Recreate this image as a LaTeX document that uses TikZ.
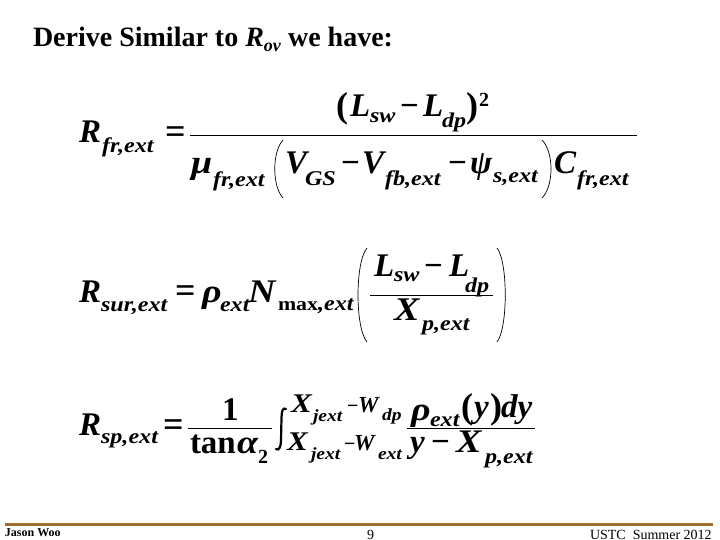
\documentclass[tikz,border=0pt]{standalone}
\usepackage{fontspec}
\setmainfont{Liberation Serif}
\newfontfamily\widefam[FakeStretch=1.15]{Liberation Serif}
\usepackage{xcolor}
\definecolor{barbrown}{HTML}{9C7028}
\tikzset{
  txt/.style={anchor=base west,inner sep=0pt,outer sep=0pt},
  sym/.style={txt,font=\fontsize{33}{33}\selectfont\bfseries\itshape},
  wsym/.style={txt,font=\widefam\fontsize{33}{33}\selectfont\bfseries\itshape},
  rom/.style={txt,font=\fontsize{33}{33}\selectfont\bfseries},
  eqs/.style={txt,font=\fontsize{36}{36}\selectfont\bfseries},
  par/.style={txt,font=\fontsize{36}{36}\selectfont\bfseries},
  subs/.style={txt,font=\widefam\fontsize{21}{21}\selectfont\bfseries\itshape},
  subr/.style={txt,font=\fontsize{20}{20}\selectfont\bfseries},
  limx/.style={txt,font=\widefam\fontsize{27}{27}\selectfont\bfseries\itshape},
  lims/.style={txt,font=\fontsize{23}{23}\selectfont\bfseries\itshape},
  limr/.style={txt,font=\widefam\fontsize{17}{17}\selectfont\bfseries\itshape},
  foot/.style={txt,font=\fontsize{14}{14}\selectfont},
  delim/.style={line width=0.7pt},
  fracline/.style={line width=1pt}
}
\begin{document}
\begin{tikzpicture}[x=1pt,y=-1pt]
\useasboundingbox (0,0) rectangle (720,540);
\fill[white] (0,0) rectangle (720,540);
\node[txt,font=\fontsize{28}{28}\selectfont\bfseries] (Title) at (33,47) {Derive Similar to \textit{R}\raisebox{-5pt}{\fontsize{18}{18}\selectfont\textit{ov}} we have:};
% first equation
\node[sym] (Rfr) at (79,143) {R};
\node[subs] (Rfrs) at (102,153) {fr,ext};
\node[eqs] (EqA) at (165,144) {=};
\coordinate (LineAa) at (190,136);
\coordinate (LineAb) at (637,136);
\draw[fracline] (LineAa) -- (LineAb);
\node[par] (ParA) at (336,118) {(};
\node[sym] (LswA) at (350,117) {L};
\node[subs] (LswAs) at (370,123) {sw};
\node[rom] (MinA) at (400,117) {−};
\node[sym] (LdpA) at (423,117) {L};
\node[subs] (LdpAs) at (442,128) {dp};
\node[par] (ParB) at (466,118) {)};
\node[subr] (SqA) at (479,107) {2};
\node[wsym] (Mu) at (191,174) {μ};
\node[subs] (Mus) at (213,187) {fr,ext};
\node[sym] (Vgs) at (285,174) {V};
\node[subs] (Vgss) at (305,186) {GS};
\node[rom] (MinB) at (341,174) {−};
\node[sym] (Vfb) at (362,174) {V};
\node[subs] (Vfbs) at (385,186) {fb,ext};
\node[rom] (MinC) at (448,174) {−};
\node[sym] (Psi) at (470,174) {ψ};
\node[subs] (Psis) at (493,183) {s,ext};
\node[sym] (Cfr) at (554,174) {C};
\node[subs] (Cfrs) at (577,186) {fr,ext};
\draw[delim] (283,140) .. controls (272,152) and (272,186) .. (283,198);
\draw[delim] (542,140) .. controls (554,152) and (554,186) .. (542,198);
% second equation
\node[sym] (Rsur) at (79,302) {R};
\node[subs] (Rsurs) at (101,311) {sur,ext};
\node[eqs] (EqB) at (175,302) {=};
\node[wsym] (Rho) at (202,302) {ρ};
\node[subs] (Rhos) at (220,311) {ext};
\node[wsym] (Nmax) at (248,302) {N};
\node[subr,font=\widefam\fontsize{19}{19}\selectfont\bfseries] (Nmaxs) at (278,310) {max};
\node[subs] (Nmaxt) at (318,310) {,ext};
\node[sym] (LswB) at (374,276) {L};
\node[subs] (LswBs) at (394,281) {sw};
\node[rom] (MinD) at (424,276) {−};
\node[sym] (LdpB) at (449,276) {L};
\node[subs] (LdpBs) at (465,292) {dp};
\coordinate (LineBa) at (370,295);
\coordinate (LineBb) at (493,295);
\draw[fracline] (LineBa) -- (LineBb);
\node[wsym] (Xp) at (394,320) {X};
\node[subs] (Xps) at (422,330) {p,ext};
\draw[delim] (367,248) .. controls (355,262) and (355,328) .. (367,342);
\draw[delim] (497,248) .. controls (508,262) and (508,328) .. (497,342);
% third equation
\node[sym] (Rsp) at (79,435) {R};
\node[subs] (Rsps) at (101,443) {sp,ext};
\node[eqs] (EqC) at (163,436) {=};
\coordinate (LineCa) at (188,428);
\coordinate (LineCb) at (272,428);
\draw[fracline] (LineCa) -- (LineCb);
\node[rom] (One) at (222,420) {1};
\node[rom] (Tan) at (190,453) {tan};
\node[wsym] (Alpha) at (237,453) {α};
\node[subr] (Two) at (258,463) {2};
\draw[line width=2.2pt,line cap=round] (286,409) .. controls (283,407) and (281.5,411) .. (281.5,418) -- (281,440) .. controls (281,447) and (279,451) .. (276,449);
\node[limx] (Xup) at (291,412) {X};
\node[limr] (Xups) at (313,421) {jext};
\node[subr] (MinE) at (347,412) {−};
\node[lims] (Wup) at (358,412) {W};
\node[limr] (Wups) at (382,420) {dp};
\node[limx] (Xlo) at (287,450) {X};
\node[limr] (Xlos) at (311,459) {jext};
\node[subr] (MinF) at (344,450) {−};
\node[lims] (Wlo) at (354,450) {W};
\node[limr] (Wlos) at (378,459) {ext};
\node[wsym] (RhoB) at (411,420) {ρ};
\node[subs] (RhoBs) at (430,426) {ext};
\node[par] (ParC) at (461,418) {(};
\node[sym] (Yy) at (474,417) {y};
\node[par] (ParD) at (490,418) {)};
\node[sym] (Dy) at (501,417) {dy};
\coordinate (LineDa) at (407,428);
\coordinate (LineDb) at (535,428);
\draw[fracline] (LineDa) -- (LineDb);
\node[sym] (Yb) at (410,452) {y};
\node[rom] (MinG) at (431,452) {−};
\node[wsym] (Xb) at (456,452) {X};
\node[subs] (Xbs) at (485,463) {p,ext};
% footer
\coordinate (BarA) at (5,524.5);
\coordinate (BarB) at (713,524.5);
\draw[barbrown,line width=3pt] (BarA) -- (BarB);
\node[foot,font=\fontsize{12}{12}\selectfont\bfseries] (Name) at (5,536) {Jason Woo};
\node[foot] (Page) at (367,539) {9};
\node[foot] (Org) at (590,539) {USTC\ \ Summer 2012};
\end{tikzpicture}
\end{document}
